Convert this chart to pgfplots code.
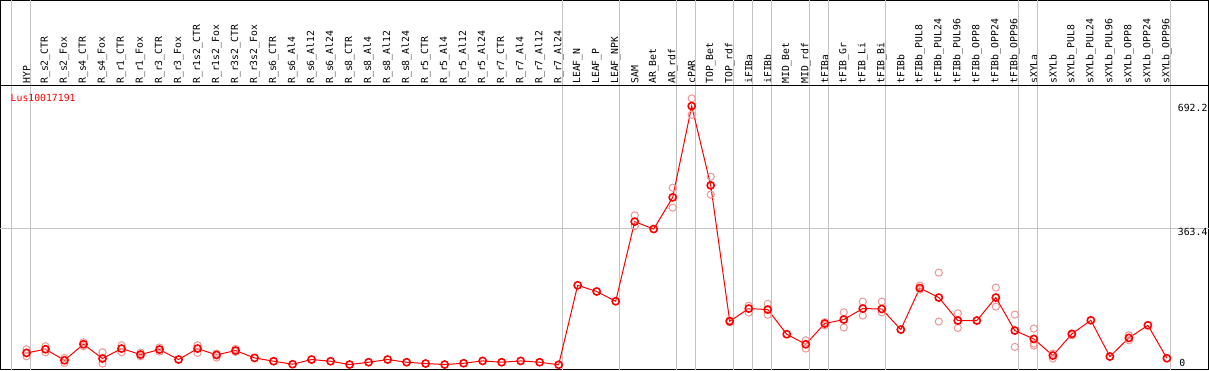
\documentclass[border=0pt]{standalone}
\usepackage{pgfplots}
\pgfplotsset{compat=1.18}
\usepackage{fontspec}
\setmonofont{DejaVu Sans Mono}
\definecolor{rep}{RGB}{238,150,150}
\definecolor{gridg}{RGB}{195,195,195}
\pgfplotstableread{
x y
0 31.6
1 41.4
2 12.0
3 54.8
4 16.6
5 43.3
6 27.3
7 40.6
8 13.9
9 43.3
10 26.2
11 38.0
12 18.2
13 9.4
14 1.3
15 13.9
16 9.4
17 0.5
18 6.7
19 13.9
20 6.7
21 3.2
22 0.5
23 4.0
24 10.2
25 6.7
26 10.2
27 6.7
28 0.0
29 212.6
30 196.0
31 169.8
32 382.9
33 363.1
34 447.9
35 692.2
36 479.9
37 116.3
38 150.3
39 147.6
40 81.6
41 54.8
42 110.2
43 120.9
44 150.3
45 149.2
46 94.1
47 205.3
48 179.7
49 118.2
50 118.2
51 179.7
52 91.4
53 69.0
54 24.6
55 82.4
56 119.0
57 21.9
58 71.7
59 105.6
60 17.4
}\means
\pgfplotstableread{
x y
0 41.4
0 22.7
1 49.5
1 33.4
2 18.2
2 4.8
3 60.2
3 49.5
4 33.4
4 3.2
5 52.1
5 33.4
6 32.6
6 22.7
7 46.0
7 35.3
9 52.1
9 31.6
10 29.9
10 19.3
11 42.2
11 34.2
32 399.7
32 371.1
34 473.8
34 420.3
35 712.6
35 669.0
36 503.2
36 455.1
37 118.9
37 113.6
38 157.8
38 139.6
39 163.1
39 133.7
41 65.5
41 43.3
42 113.6
42 105.6
43 140.4
43 99.5
44 169.0
44 131.6
45 169.0
45 140.4
47 211.8
47 201.1
48 246.5
48 115.5
49 137.7
49 98.4
51 206.4
51 155.6
52 134.2
52 47.6
53 96.8
53 56.7
53 51.3
54 29.9
54 16.6
55 83.4
55 78.9
58 78.9
58 65.5
}\reps
\begin{document}
\begin{tikzpicture}
\begin{axis}[
  x=19.02pt, y=0.374pt,
  xmin=-1.367, xmax=62.19, ymin=-13.4, ymax=974.6,
  axis line style={black, line width=1pt},
  clip=false,
  xtick={0,...,60},
  xticklabels={HYP,R\_s2\_CTR,R\_s2\_Fox,R\_s4\_CTR,R\_s4\_Fox,R\_r1\_CTR,R\_r1\_Fox,R\_r3\_CTR,R\_r3\_Fox,R\_r1s2\_CTR,R\_r1s2\_Fox,R\_r3s2\_CTR,R\_r3s2\_Fox,R\_s6\_CTR,R\_s6\_Al4,R\_s6\_Al12,R\_s6\_Al24,R\_s8\_CTR,R\_s8\_Al4,R\_s8\_Al12,R\_s8\_Al24,R\_r5\_CTR,R\_r5\_Al4,R\_r5\_Al12,R\_r5\_Al24,R\_r7\_CTR,R\_r7\_Al4,R\_r7\_Al12,R\_r7\_Al24,LEAF\_N,LEAF\_P,LEAF\_NPK,SAM,AR\_Bet,AR\_rdf,cPAR,TOP\_Bet,TOP\_rdf,iFIBa,iFIBb,MID\_Bet,MID\_rdf,tFIBa,tFIB\_Gr,tFIB\_Li,tFIB\_Bi,tFIBb,tFIBb\_PUL8,tFIBb\_PUL24,tFIBb\_PUL96,tFIBb\_OPP8,tFIBb\_OPP24,tFIBb\_OPP96,sXYLa,sXYLb,sXYLb\_PUL8,sXYLb\_PUL24,sXYLb\_PUL96,sXYLb\_OPP8,sXYLb\_OPP24,sXYLb\_OPP96},
  xticklabel style={rotate=90, anchor=west, font=\ttfamily\fontsize{9.8}{10}\selectfont, inner sep=1pt},
  xticklabel shift=-285pt,
  major tick length=0pt,
  ytick=\empty,
  extra x ticks={-0.8,0.2,28.2,31.2,34.2,35.2,37.2,38.2,39.2,41.2,42.2,45.2,52.2,53.2,60.2},
  extra x tick labels={},
  extra x tick style={grid=major, major grid style={gridg, line width=1pt}, xticklabel style={inner sep=0pt}},
]
\draw[gridg, line width=1pt] (rel axis cs:0,0) ++(0,0) (axis cs:-1.367,363.4) -- (axis cs:62.19,363.4);
\draw[black, line width=1pt] (axis cs:-1.367,747.3) -- (axis cs:62.19,747.3);
\addplot[only marks, mark=o, mark size=3.6pt, mark options={rep, line width=1pt}] table {\reps};
\addplot[red, line width=1pt, mark=o, mark size=3.6pt, mark options={red, line width=1.6pt}] table {\means};
\node[anchor=west, text=red, font=\ttfamily\fontsize{9.8}{10}\selectfont, inner sep=0pt] at (axis cs:-0.84,715) {Lus10017191};
\node[anchor=west, font=\ttfamily\fontsize{9.8}{10}\selectfont, inner sep=0pt] at (axis cs:60.57,687) {692.2};
\node[anchor=west, font=\ttfamily\fontsize{9.8}{10}\selectfont, inner sep=0pt] at (axis cs:60.57,355) {363.4};
\node[anchor=west, font=\ttfamily\fontsize{9.8}{10}\selectfont, inner sep=0pt] at (axis cs:60.65,6) {0};
\end{axis}
\end{tikzpicture}
\end{document}
